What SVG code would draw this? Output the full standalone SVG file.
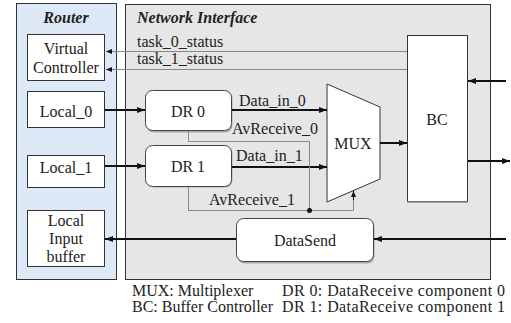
<svg xmlns="http://www.w3.org/2000/svg" width="511" height="323" viewBox="0 0 511 323">
<defs>
<style>
text{font-family:"Liberation Serif","Times New Roman","DejaVu Serif",serif;font-size:16px;fill:#222}
.t{font-weight:bold;font-style:italic}
.m{text-anchor:middle}
.box{fill:#fff;stroke:#333;stroke-width:1}
.rbox{fill:#fff;stroke:#444;stroke-width:1}
.sh{fill:#aaa}
.thick{stroke:#111;stroke-width:2;fill:none}
.thin{stroke:#888;stroke-width:1;fill:none}
</style>
<marker id="ah" viewBox="0 0 8 6" refX="8" refY="3" markerWidth="8" markerHeight="6" markerUnits="userSpaceOnUse" orient="auto">
<path d="M0,0 L8,3 L0,6 z" fill="#111"/>
</marker>
<marker id="ahs" viewBox="0 0 6 5" refX="6" refY="2.5" markerWidth="6" markerHeight="5" markerUnits="userSpaceOnUse" orient="auto">
<path d="M0,0 L6,2.5 L0,5 z" fill="#111"/>
</marker>
</defs>

<g id="router">
<rect x="16.5" y="3.5" width="100" height="276" fill="#dde9f6" stroke="#333"/>
<text class="t m" x="66" y="23">Router</text>
</g>
<g id="network-interface">
<rect x="125.5" y="4.5" width="365" height="275" fill="#e6e6e6" stroke="#333"/>
<text class="t" x="137" y="23">Network Interface</text>
</g>

<g id="virtual-controller">
<rect class="box" x="27.5" y="34.5" width="77" height="46"/>
<text class="m" x="66" y="54">Virtual</text>
<text class="m" x="66" y="73">Controller</text>
</g>
<g id="local0">
<rect class="box" x="27.5" y="91.5" width="77" height="36"/>
<text class="m" x="66" y="117">Local_0</text>
</g>
<g id="local1">
<rect class="box" x="27.5" y="155.5" width="77" height="32"/>
<text class="m" x="66" y="173">Local_1</text>
</g>
<g id="local-input-buffer">
<rect class="box" x="27.5" y="210.5" width="77" height="56"/>
<text class="m" x="66" y="226">Local</text>
<text class="m" x="66" y="244">Input</text>
<text class="m" x="66" y="262">buffer</text>
</g>

<g id="dr0">
<rect class="sh" x="146.5" y="91.5" width="86" height="41" rx="7"/>
<rect class="rbox" x="145.5" y="90.5" width="86" height="40" rx="7"/>
<text class="m" x="188" y="117">DR 0</text>
</g>
<g id="dr1">
<rect class="sh" x="146.5" y="146.5" width="86" height="41" rx="7"/>
<rect class="rbox" x="145.5" y="145.5" width="86" height="41" rx="7"/>
<text class="m" x="188" y="172">DR 1</text>
</g>
<g id="mux">
<polygon points="327,84 380,107 380,179 327,202" fill="#fff" stroke="#333"/>
<text class="m" x="353" y="149">MUX</text>
</g>
<g id="bc">
<rect x="407.5" y="35.5" width="60" height="166" fill="#fff" stroke="#333"/>
<line x1="407" y1="202" x2="468" y2="202" stroke="#888" stroke-width="1.5"/>
<text class="m" x="437" y="125">BC</text>
</g>
<g id="datasend">
<rect class="sh" x="237.5" y="219.5" width="137" height="44" rx="7"/>
<rect class="rbox" x="236.5" y="218.5" width="137" height="43" rx="7"/>
<text class="m" x="305" y="246">DataSend</text>
</g>

<g id="connectors">
<line class="thin" x1="407" y1="51.5" x2="106" y2="51.5" marker-end="url(#ahs)"/>
<line class="thin" x1="407" y1="69.5" x2="106" y2="69.5" marker-end="url(#ahs)"/>
<text x="137" y="47">task_0_status</text>
<text x="137" y="64">task_1_status</text>
<line class="thick" x1="105" y1="110" x2="145" y2="110" marker-end="url(#ah)"/>
<line class="thick" x1="105" y1="166" x2="145" y2="166" marker-end="url(#ah)"/>
<line class="thick" x1="232" y1="110" x2="327" y2="110" marker-end="url(#ah)"/>
<line class="thick" x1="232" y1="167" x2="327" y2="167" marker-end="url(#ah)"/>
<text x="239" y="106">Data_in_0</text>
<text x="236" y="161">Data_in_1</text>
<polyline class="thin" points="188.5,131 188.5,141.5 309.5,141.5 309.5,210.5"/>
<polyline class="thin" points="188.5,187 188.5,210.5 353.5,210.5 353.5,192"/>
<line x1="353.5" y1="200" x2="353.5" y2="191" stroke="#111" stroke-width="1" marker-end="url(#ahs)"/>
<circle cx="309.5" cy="210.5" r="2.5" fill="#111"/>
<text x="232" y="134">AvReceive_0</text>
<text x="209" y="205">AvReceive_1</text>
<line class="thick" x1="380" y1="143" x2="407" y2="143" marker-end="url(#ah)"/>
<line class="thick" x1="506" y1="81" x2="468" y2="81" marker-end="url(#ah)"/>
<line class="thick" x1="468" y1="161" x2="510" y2="161" marker-end="url(#ah)"/>
<line class="thick" x1="506" y1="239" x2="374" y2="239" marker-end="url(#ah)"/>
<line class="thick" x1="236" y1="239" x2="105" y2="239" marker-end="url(#ah)"/>
</g>

<g id="legend">
<text x="132" y="296">MUX: Multiplexer</text>
<text x="132" y="312">BC: Buffer Controller</text>
<text x="282" y="296" textLength="223" lengthAdjust="spacing">DR 0: DataReceive component 0</text>
<text x="282" y="312" textLength="223" lengthAdjust="spacing">DR 1: DataReceive component 1</text>
</g>
</svg>
